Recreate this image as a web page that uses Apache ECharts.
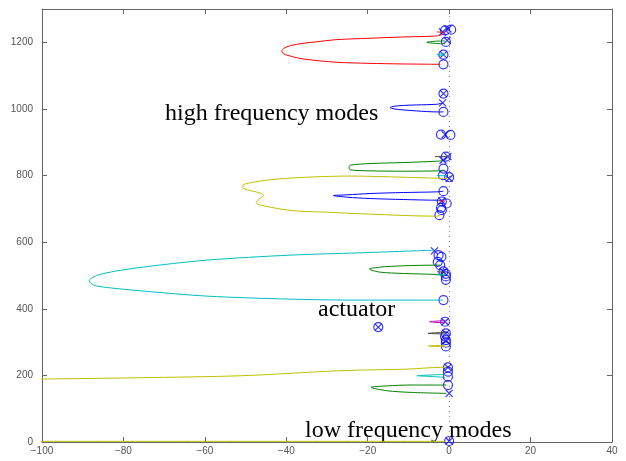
<!DOCTYPE html>
<html lang="en">
<head>
<meta charset="UTF-8">
<title>root locus</title>
<style>
    html, body {margin: 0; padding: 0; background: #fff;}
    #main {width: 626px; height: 461px;}
</style>
</head>
<body>
<div id="main"></div>
<script src="https://cdn.jsdelivr.net/npm/echarts@6/dist/echarts.min.js"></script>
<script>
// axes
var xMin = -100, xMax = 40, xStep = 20;
var yMin = 0, yMax = 1300, yStep = 200;

// locus branches, [real, imag]
var redLocus = [[-1.5,1224],[-3.1,1219],[-11.2,1216],[-20,1212],[-27.6,1208],[-33,1201],[-35.9,1197],[-39,1190],[-40.6,1182],[-41.1,1173],[-40.6,1165],[-38.5,1157],[-35.9,1150],[-27.6,1140],[-20,1137],[-11.3,1135],[-2.2,1134]];
var greenTop = [[-1,1204],[-3,1203.5],[-5.5,1200],[-3,1196.5],[-1,1196]];
var cyanTop = [[-1,1166],[-3,1163],[-1,1160]];
var blueHigh = [[-1.6,1018],[-3,1014],[-8,1012],[-11.2,1010.5],[-13.5,1008],[-14.5,1004],[-13.5,1000],[-11.2,997],[-8,994],[-3,991],[-1.4,991]];
var greenMid = [[-1.5,845],[-3,843],[-11.2,839],[-19.4,836],[-24.3,831],[-24.6,824],[-24.3,817],[-19.4,814],[-11.2,813],[-3,814],[-1.4,816]];
var yellowMid = [[-0.5,791],[-3,792],[-11.3,795],[-24.5,798.5],[-33,796],[-40.7,791],[-44.8,786],[-48,780],[-50.5,773],[-50.7,764],[-45.6,741],[-47.4,719],[-46.9,713],[-43,703],[-40.7,698],[-36.6,693],[-30,690],[-19.4,684],[-3,678],[-2.2,681]];
var blueMid = [[-1.4,753],[-3,751],[-11.2,749],[-19.4,746],[-25.1,742],[-28.4,740],[-25.1,735],[-19.4,731],[-11.2,728],[-3,726],[-1.7,726]];
var cyanBig = [[-3.7,576],[-21.9,568],[-39.1,561],[-59.5,546],[-75.9,524],[-84.1,508],[-87.3,496],[-88.4,484],[-87.3,471],[-84.1,464],[-75.9,454],[-59.5,438],[-39.1,429],[-21.9,426],[-1.5,426]];
var greenLocus = [[-2.2,531],[-3,531],[-11.2,529],[-17,525],[-19.6,519],[-17,510],[-11.2,506],[-3,503],[-1,501]];
var magentaLocus = [[-1,364],[-3,363],[-4.8,361],[-3,359],[-1,358]];
var grayLocus = [[-1,329],[-3,328],[-5.2,326],[-3,325],[-1,324]];
var yellowSmall = [[-1,290],[-3,289.5],[-5.1,288],[-3,286.5],[-1,286]];
var yellowLow = [[-0.7,224],[-2.2,224],[-10,219],[-26.8,214],[-51,199],[-75.9,193],[-100,189],[-120,186]];
var cyanSmall = [[-1,203],[-4,201.5],[-7.9,199],[-4,196.5],[-1,194]];
var greenLow = [[-0.7,171],[-9.6,171],[-15.3,168.5],[-19.2,164],[-15.3,154],[-9.6,149],[-0.7,146]];
var yellowAxis = [[-120,2],[-1,2]];
var grayStubs = [[[-3.5,857],[-0.5,857]], [[-3,511],[-1,510]]];
var cyanStubs = [[[-3,800],[-0.5,799]], [[-3,502],[-1,501]]];
var redStubs = [[[-2.5,724],[-1,723]], [[-3,1231],[-1,1230]]];

// open-loop zeros and poles
var zeros = [[-1,1236],[0.5,1238],[-0.8,1201],[-1.4,1163],[-1.4,1134],[-1.4,1046],[-1.4,991],[-2,923],[0.3,922],[-0.8,857],[-1.4,821],[-1.5,801],[0,795],[-1.4,753],[-1.8,722],[-0.6,716],[-2,703],[-1.8,696],[-2.4,681],[-2.6,561],[-1.9,556],[-2.8,541],[-2.2,531],[-1.4,512],[-0.8,505],[-0.8,497],[-0.8,487],[-1.4,426],[-1,361],[-0.8,326],[-1,317],[-0.8,306],[-0.8,298],[-0.8,287],[-0.3,224],[-0.3,211],[-0.3,196],[-0.3,171],[0,3],[-17.4,345]];
var poles = [[-1.6,1231],[-0.3,1240],[-0.5,1206],[-1.4,1163],[-1.4,1046],[-1.6,1018],[-1,923],[-1.5,846],[-0.3,857],[0,791],[-1.8,724],[-3.6,574],[-1.4,511],[-1,361],[-0.8,326],[-0.8,304],[-0.3,224],[0,146],[0,3],[-17.4,345]];

var chart = echarts.init(document.getElementById('main'));

function locus(data, color) {
    return {
        type: 'line', data: data, showSymbol: false, smooth: 0.3,
        lineStyle: {color: color, width: 1}, silent: true
    };
}

var series = [
    locus(redLocus, '#ff0000'),
    locus(greenTop, '#008000'),
    locus(cyanTop, '#00bfbf'),
    locus(blueHigh, '#0000ff'),
    locus(greenMid, '#008000'),
    locus(yellowMid, '#bfbf00'),
    locus(blueMid, '#0000ff'),
    locus(cyanBig, '#00bfbf'),
    locus(greenLocus, '#008000'),
    locus(magentaLocus, '#bf00bf'),
    locus(grayLocus, '#404040'),
    locus(yellowSmall, '#bfbf00'),
    locus(yellowLow, '#bfbf00'),
    locus(cyanSmall, '#00bfbf'),
    locus(greenLow, '#008000'),
    locus(yellowAxis, '#bfbf00')
];
grayStubs.forEach(function (d) { series.push(locus(d, '#404040')); });
cyanStubs.forEach(function (d) { series.push(locus(d, '#00bfbf')); });
redStubs.forEach(function (d) { series.push(locus(d, '#ff0000')); });

// imaginary axis, dotted
series[0].markLine = {
    silent: true, symbol: 'none', animation: false,
    label: {show: false},
    lineStyle: {type: [1, 4], color: '#888', width: 1},
    data: [{xAxis: 0}]
};

series.push({
    type: 'scatter', data: zeros, symbol: 'circle', symbolSize: 9,
    itemStyle: {color: 'transparent', borderColor: '#0000ff', borderWidth: 1.2}
});
series.push({
    type: 'scatter', data: poles, symbol: 'path://M0,0L10,10M10,0L0,10', symbolSize: 7,
    itemStyle: {color: 'transparent', borderColor: '#0000ff', borderWidth: 1.2}
});

var axisColor = '#666';
function plain(v) { return String(v).replace('-', '\u2212'); }

chart.setOption({
    animation: false,
    grid: {left: 42, right: 14, top: 9, bottom: 19, containLabel: false},
    xAxis: [
        {
            type: 'value', min: xMin, max: xMax, interval: xStep, position: 'bottom',
            axisLine: {show: true, onZero: false, lineStyle: {color: axisColor}},
            axisTick: {show: true, inside: true, length: 5, lineStyle: {color: axisColor}},
            axisLabel: {color: '#555', fontSize: 10, fontFamily: 'Liberation Sans', margin: 4, formatter: plain},
            splitLine: {show: false}
        },
        {
            type: 'value', min: xMin, max: xMax, interval: xStep, position: 'top',
            axisLine: {show: true, onZero: false, lineStyle: {color: axisColor}},
            axisTick: {show: true, inside: true, length: 5, lineStyle: {color: axisColor}},
            axisLabel: {show: false}, splitLine: {show: false}
        }
    ],
    yAxis: [
        {
            type: 'value', min: yMin, max: yMax, interval: yStep, position: 'left',
            axisLine: {show: true, onZero: false, lineStyle: {color: axisColor}},
            axisTick: {show: true, inside: true, length: 5, lineStyle: {color: axisColor}},
            axisLabel: {color: '#555', fontSize: 10, fontFamily: 'Liberation Sans', margin: 9, showMaxLabel: false, formatter: plain},
            splitLine: {show: false}
        },
        {
            type: 'value', min: yMin, max: yMax, interval: yStep, position: 'right',
            axisLine: {show: true, onZero: false, lineStyle: {color: axisColor}},
            axisTick: {show: true, inside: true, length: 5, lineStyle: {color: axisColor}},
            axisLabel: {show: false}, splitLine: {show: false}
        }
    ],
    graphic: [
        {type: 'text', left: 165, top: 102, silent: true,
         style: {text: 'high frequency modes', font: '24px "Liberation Serif"', fill: '#000'}},
        {type: 'text', left: 318, top: 298, silent: true,
         style: {text: 'actuator', font: '24px "Liberation Serif"', fill: '#000'}},
        {type: 'text', left: 305, top: 419, silent: true,
         style: {text: 'low frequency modes', font: '24px "Liberation Serif"', fill: '#000'}}
    ],
    series: series
});
</script>
</body>
</html>
